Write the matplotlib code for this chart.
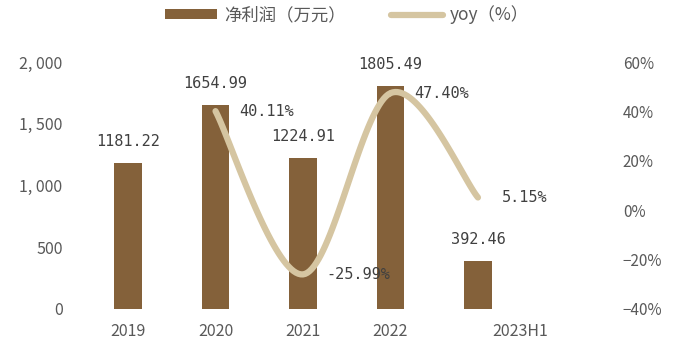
import numpy as np
import matplotlib.pyplot as plt
import matplotlib.transforms as mtransforms

plt.rcParams['font.family'] = ['Noto Sans CJK SC', 'DejaVu Sans']

# data
years = ['2019', '2020', '2021', '2022', '2023H1']
profit = [1181.22, 1654.99, 1224.91, 1805.49, 392.46]
yoy_idx = [1, 2, 3, 4]
yoy = [40.11, -25.99, 47.40, 5.15]

bar_color = '#84613A'
line_color = '#D5C5A1'
txt_color = '#404040'
tick_color = '#595959'


def catmull_rom(xs, ys, n=40):
    # smooth curve through points (Excel-like smoothed line)
    xs = np.asarray(xs, float)
    ys = np.asarray(ys, float)
    px = np.concatenate([[xs[0]], xs, [xs[-1]]])
    py = np.concatenate([[ys[0]], ys, [ys[-1]]])
    outx, outy = [], []
    for i in range(1, len(px) - 2):
        t = np.linspace(0, 1, n)
        for p, out in ((px, outx), (py, outy)):
            p0, p1, p2, p3 = p[i - 1], p[i], p[i + 1], p[i + 2]
            out.extend(0.5 * ((2 * p1) + (-p0 + p2) * t
                              + (2 * p0 - 5 * p1 + 4 * p2 - p3) * t ** 2
                              + (-p0 + 3 * p1 - 3 * p2 + p3) * t ** 3))
    return np.array(outx), np.array(outy)


fig = plt.figure(figsize=(6.76, 3.42), dpi=100)
ax = fig.add_axes([0.111, 0.0965, 0.794, 0.7222])
ax2 = ax.twinx()

x = np.arange(len(years))
ax.bar(x, profit, width=0.31, color=bar_color, label='净利润（万元）', zorder=2)
ax.set_ylim(0, 2000)
ax.set_yticks([0, 500, 1000, 1500, 2000])
ax.set_yticklabels(['0', '500', '1, 000', '1, 500', '2, 000'])
ax.set_xlim(-0.606, 5.53)
ax.set_xticks(x)
ax.set_xticklabels(years)

for v, xi in zip(profit, x):
    ax.annotate(f'{v:.2f}', (xi, v), xytext=(0, 10), textcoords='offset points',
                ha='center', va='bottom', fontsize=11, color=txt_color,
                family=['DejaVu Sans Mono'])

sx, sy = catmull_rom(yoy_idx, yoy)
ax2.plot(sx, sy, color=line_color, lw=4.5, solid_capstyle='round',
         label='yoy（%）', zorder=3, clip_on=False)
ax2.set_ylim(-40, 60)
ax2.set_yticks([-40, -20, 0, 20, 40, 60])
ax2.set_yticklabels(['\u221240%', '\u221220%', '0%', '20%', '40%', '60%'])

for xi, v in zip(yoy_idx, yoy):
    ax2.annotate(f'{v:.2f}%', (xi, v), xytext=(17, 0), textcoords='offset points',
                 ha='left', va='center', fontsize=11, color=txt_color,
                 family=['DejaVu Sans Mono'])

for a in (ax, ax2):
    for s in a.spines.values():
        s.set_visible(False)
    a.tick_params(length=0, labelsize=11.5, colors=tick_color)
ax.tick_params(axis='y', pad=9)
ax2.tick_params(axis='y', pad=8, labelsize=11)
ax.tick_params(axis='x', pad=10)

# last x label sits to the right of its bar
lbl = ax.get_xticklabels()[-1]
lbl.set_transform(lbl.get_transform() + mtransforms.ScaledTranslation(0.42, 0, fig.dpi_scale_trans))

h1, l1 = ax.get_legend_handles_labels()
h2, l2 = ax2.get_legend_handles_labels()
fig.legend(h1 + h2, l1 + l2, loc='upper center', bbox_to_anchor=(0.513, 1.03), ncol=2,
           frameon=False, fontsize=12.5, handlelength=3.0, handleheight=0.5,
           handletextpad=0.4, columnspacing=2.6, labelcolor=tick_color)

fig.savefig('out.png', dpi=100)
